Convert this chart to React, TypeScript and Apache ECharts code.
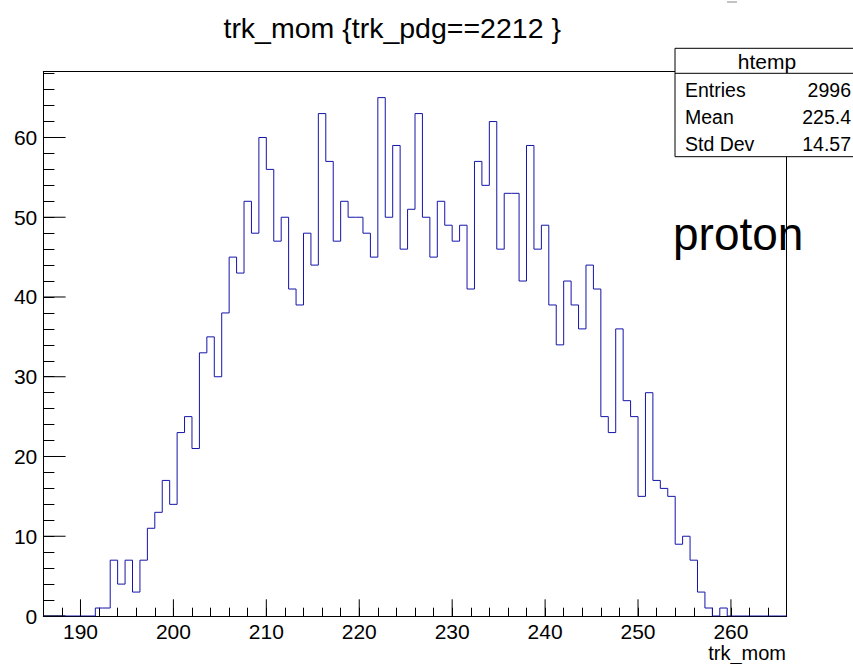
import React, { useEffect, useRef } from "react";
import * as echarts from "echarts";

// Histogram: 100 bins from 186 to 266 (width 0.8)
const binLow = 186;
const binHigh = 266;
const binWidth = 0.8;
const binCounts = [
  0, 0, 0, 0, 0, 0, 0, 1, 1, 7,
  4, 7, 3, 7, 11, 13, 17, 14, 23, 25,
  21, 33, 35, 30, 38, 45, 43, 52, 48, 60,
  56, 47, 50, 41, 39, 48, 44, 63, 57, 47,
  52, 50, 50, 48, 45, 65, 50, 59, 46, 51,
  63, 50, 45, 52, 49, 47, 49, 41, 57, 54,
  62, 46, 53, 53, 42, 59, 46, 49, 39, 34,
  42, 39, 36, 44, 41, 25, 23, 36, 27, 25,
  15, 28, 17, 16, 15, 9, 10, 7, 3, 1,
  0, 1, 0, 0, 0, 0, 0, 0, 0, 0,
];
const yMax = 68.25;
const xMajorTicks = [190, 200, 210, 220, 230, 240, 250, 260];
const yMajorTicks = [0, 10, 20, 30, 40, 50, 60];

const titleText = "trk_mom {trk_pdg==2212 }";
const xAxisTitle = "trk_mom";
const statsName = "htemp";
const statsLabels = ["Entries", "Mean", "Std Dev"];
const statsValues = ["2996", "225.4", "14.57"];
const annotation = "proton";

const FONT = "Liberation Sans";
const LINE_COLOR = "#1414aa";

export default function App() {
  const ref = useRef<HTMLDivElement>(null);

  useEffect(() => {
    document.body.style.margin = "0";
    if (!ref.current) return;
    const chart = echarts.init(ref.current, undefined, { renderer: "svg" });

    const stepData: number[][] = binCounts.map((v, i) => [binLow + i * binWidth, v]);
    stepData.push([binHigh, binCounts[binCounts.length - 1]]);

    const gridLeft = 43.3;
    const gridTop = 71.7;
    const gridRight = 786.7;
    const gridBottom = 616;

    const statsX = 675;
    const statsY = 48.3;
    const statsW = 184;
    const statsH = 108.4;
    const rowY = [90, 117, 144];

    const option: any = {
      animation: false,
      backgroundColor: "#ffffff",
      grid: {
        left: gridLeft,
        top: gridTop,
        width: gridRight - gridLeft,
        height: gridBottom - gridTop,
        containLabel: false,
      },
      xAxis: [
        {
          type: "value",
          min: binLow,
          max: binHigh,
          interval: 2,
          axisLine: { show: true, onZero: false, lineStyle: { color: "#000", width: 1 } },
          axisTick: { show: true, inside: true, length: 8.3, lineStyle: { color: "#000", width: 1 } },
          axisLabel: {
            show: true,
            margin: 7.5,
            color: "#000",
            fontSize: 21,
            lineHeight: 16,
            fontFamily: FONT,
            showMinLabel: true,
            showMaxLabel: true,
            formatter: (v: number) => (xMajorTicks.indexOf(Math.round(v * 1000) / 1000) >= 0 ? String(v) : ""),
          },
          splitLine: { show: false },
        },
        {
          type: "value",
          position: "top",
          min: binLow,
          max: binHigh,
          axisLine: { show: true, onZero: false, lineStyle: { color: "#000", width: 1 } },
          axisTick: { show: false },
          axisLabel: { show: false },
          splitLine: { show: false },
        },
      ],
      yAxis: [
        {
          type: "value",
          min: 0,
          max: yMax,
          interval: 2,
          axisLine: { show: true, onZero: false, lineStyle: { color: "#000", width: 1 } },
          axisTick: { show: true, inside: true, length: 11.1, lineStyle: { color: "#000", width: 1 } },
          axisLabel: {
            show: true,
            margin: 6,
            color: "#000",
            fontSize: 21,
            fontFamily: FONT,
            formatter: (v: number) => (yMajorTicks.indexOf(Math.round(v * 1000) / 1000) >= 0 ? String(v) : ""),
          },
          splitLine: { show: false },
        },
        {
          type: "value",
          position: "right",
          min: 0,
          max: yMax,
          axisLine: { show: true, onZero: false, lineStyle: { color: "#000", width: 1 } },
          axisTick: { show: false },
          axisLabel: { show: false },
          splitLine: { show: false },
        },
      ],
      series: [
        {
          name: "htemp",
          type: "line",
          xAxisIndex: 0,
          yAxisIndex: 0,
          step: "end",
          data: stepData,
          showSymbol: false,
          symbol: "none",
          lineStyle: { color: LINE_COLOR, width: 1 },
          clip: true,
          z: 5,
        },
        {
          type: "custom",
          xAxisIndex: 0,
          yAxisIndex: 0,
          data: xMajorTicks.map((v) => [v, 0]),
          silent: true,
          z: 6,
          renderItem: (params: any, api: any) => {
            const p = api.coord([api.value(0), 0]);
            return {
              type: "line",
              shape: { x1: p[0], y1: p[1], x2: p[0], y2: p[1] - 16.7 },
              style: { stroke: "#000", lineWidth: 1 },
            };
          },
        },
        {
          type: "custom",
          xAxisIndex: 0,
          yAxisIndex: 0,
          data: yMajorTicks.map((v) => [binLow, v]),
          silent: true,
          z: 6,
          renderItem: (params: any, api: any) => {
            const p = api.coord([binLow, api.value(1)]);
            return {
              type: "line",
              shape: { x1: p[0], y1: p[1], x2: p[0] + 22.3, y2: p[1] },
              style: { stroke: "#000", lineWidth: 1 },
            };
          },
        },
      ],
      graphic: [
        {
          type: "text",
          x: 392.2,
          y: 28.2,
          z: 100,
          style: {
            text: titleText,
            fill: "#000",
            fontSize: 28.5,
            fontFamily: FONT,
            textAlign: "center",
            textVerticalAlign: "middle",
          },
        },
        {
          type: "line",
          z: 100,
          shape: { x1: 727, y1: 2, x2: 737, y2: 2 },
          style: { stroke: "#888", lineWidth: 1 },
        },
        {
          type: "text",
          x: 786,
          y: 652.5,
          z: 100,
          style: {
            text: xAxisTitle,
            fill: "#000",
            fontSize: 20,
            lineHeight: 16,
            fontFamily: FONT,
            textAlign: "right",
            textVerticalAlign: "middle",
          },
        },
        {
          type: "text",
          x: 673,
          y: 234,
          z: 100,
          style: {
            text: annotation,
            fill: "#000",
            fontSize: 46,
            fontFamily: FONT,
            textAlign: "left",
            textVerticalAlign: "middle",
          },
        },
        {
          type: "rect",
          z: 100,
          shape: { x: statsX, y: statsY, width: statsW, height: statsH },
          style: { fill: "#fff", stroke: "#000", lineWidth: 1 },
        },
        {
          type: "line",
          z: 101,
          shape: { x1: statsX, y1: 73.3, x2: statsX + statsW, y2: 73.3 },
          style: { stroke: "#000", lineWidth: 1 },
        },
        {
          type: "text",
          x: statsX + statsW / 2,
          y: 61,
          z: 101,
          style: {
            text: statsName,
            fill: "#000",
            fontSize: 21,
            fontFamily: FONT,
            textAlign: "center",
            textVerticalAlign: "middle",
          },
        },
        ...statsLabels.map((t, i) => ({
          type: "text",
          x: 685,
          y: rowY[i],
          z: 101,
          style: {
            text: t,
            fill: "#000",
            fontSize: 19.5,
            fontFamily: FONT,
            textAlign: "left",
            textVerticalAlign: "middle",
          },
        })),
        ...statsValues.map((t, i) => ({
          type: "text",
          x: 851,
          y: rowY[i],
          z: 101,
          style: {
            text: t,
            fill: "#000",
            fontSize: 19.5,
            fontFamily: FONT,
            textAlign: "right",
            textVerticalAlign: "middle",
          },
        })),
      ],
    };

    chart.setOption(option);
    return () => {
      chart.dispose();
    };
  }, []);

  return <div ref={ref} style={{ width: 853, height: 664 }} />;
}
